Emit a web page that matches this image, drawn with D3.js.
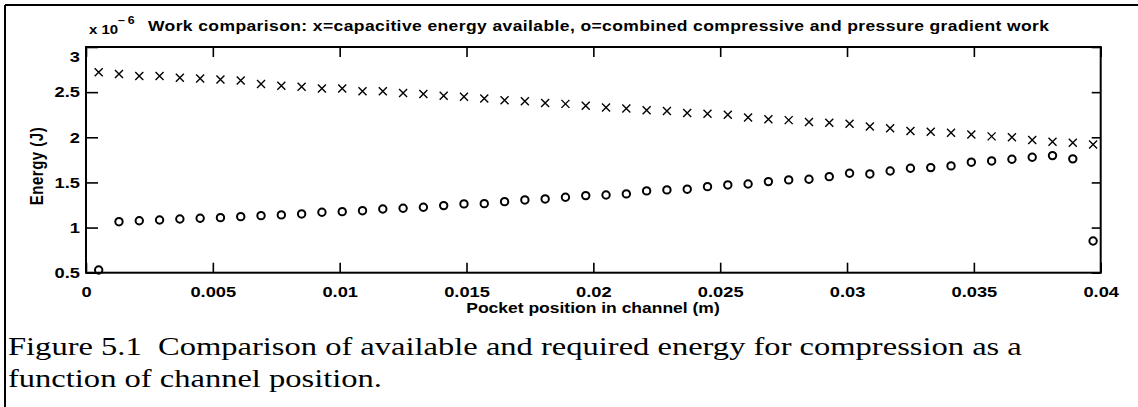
<!DOCTYPE html>
<html>
<head>
<meta charset="utf-8">
<script src="https://cdn.jsdelivr.net/npm/d3@7"></script>
<style>
  html, body { margin: 0; padding: 0; background: #fff; }
  svg { display: block; }
  .lbl { font-family: "Liberation Sans", Arial, sans-serif; font-weight: bold; fill: #000; }
  .cap { font-family: "Liberation Serif", "Times New Roman", serif; fill: #000; }
</style>
</head>
<body>
<svg id="fig" width="1138" height="407"></svg>
<script>
// Pocket position in channel (m)
const positions = [
  0.0005, 0.0013, 0.0021, 0.0029, 0.0037, 0.0045, 0.0053, 0.0061, 0.0069, 0.0077,
  0.0085, 0.0093, 0.0101, 0.0109, 0.0117, 0.0125, 0.0133, 0.0141, 0.0149, 0.0157,
  0.0165, 0.0173, 0.0181, 0.0189, 0.0197, 0.0205, 0.0213, 0.0221, 0.0229, 0.0237,
  0.0245, 0.0253, 0.0261, 0.0269, 0.0277, 0.0285, 0.0293, 0.0301, 0.0309, 0.0317,
  0.0325, 0.0333, 0.0341, 0.0349, 0.0357, 0.0365, 0.0373, 0.0381, 0.0389, 0.0397
];
// x: capacitive energy available (x 1e-6 J)
const capacitive = [
  2.72, 2.70, 2.68, 2.68, 2.66, 2.65, 2.64, 2.63, 2.59, 2.57,
  2.56, 2.54, 2.54, 2.51, 2.51, 2.49, 2.48, 2.46, 2.45, 2.43,
  2.41, 2.40, 2.38, 2.37, 2.35, 2.33, 2.32, 2.30, 2.29, 2.27,
  2.26, 2.25, 2.22, 2.20, 2.19, 2.17, 2.16, 2.15, 2.12, 2.10,
  2.07, 2.06, 2.05, 2.03, 2.01, 2.00, 1.97, 1.95, 1.94, 1.92
];
// o: combined compressive and pressure gradient work (x 1e-6 J)
const compressive = [
  0.53, 1.065, 1.076, 1.084, 1.095, 1.103, 1.110, 1.121, 1.132, 1.140,
  1.151, 1.170, 1.176, 1.187, 1.206, 1.214, 1.225, 1.243, 1.262, 1.265,
  1.287, 1.306, 1.317, 1.336, 1.354, 1.361, 1.373, 1.406, 1.417, 1.425,
  1.453, 1.472, 1.483, 1.509, 1.528, 1.535, 1.564, 1.602, 1.594, 1.627,
  1.657, 1.664, 1.683, 1.724, 1.738, 1.757, 1.779, 1.797, 1.761, 0.851
];
const xTicks = [0, 0.005, 0.01, 0.015, 0.02, 0.025, 0.03, 0.035, 0.04];
const xTickLabels = ["0", "0.005", "0.01", "0.015", "0.02", "0.025", "0.03", "0.035", "0.04"];
const yTicks = [0.5, 1, 1.5, 2, 2.5, 3];
const yTickLabels = ["0.5", "1", "1.5", "2", "2.5", "3"];

const titleText = "Work comparison: x=capacitive energy available, o=combined compressive and pressure gradient work";
const captionLines = [
  "Figure 5.1\u00a0 Comparison of available and required energy for compression as a",
  "function of channel position."
];

// the figure's lettering is set wide: glyphs are stretched horizontally
const SX = 1.22;
const SCAP = 1.252;

const svg = d3.select("#fig");
const box = { left: 86, right: 1100.7, top: 47, bottom: 272.7 };

const x = d3.scaleLinear().domain([0, 0.04]).range([box.left, box.right]);
const y = d3.scaleLinear().domain([0.5, 3]).range([box.bottom, box.top]);

// draws a horizontally stretched text at page position (px, py)
function wideText(parent, px, py, s) {
  return parent.append("text")
    .attr("x", px / s).attr("y", py)
    .attr("transform", `scale(${s},1)`);
}

// page frame (top and left rules)
svg.append("line").attr("x1", 5).attr("x2", 1138).attr("y1", 5).attr("y2", 5)
  .attr("stroke", "#000").attr("stroke-width", 2);
svg.append("line").attr("x1", 5).attr("x2", 5).attr("y1", 5).attr("y2", 407)
  .attr("stroke", "#000").attr("stroke-width", 2);

// axes: ticks pointing inward on all four sides
const tickStyle = g => {
  g.select(".domain").remove();
  g.selectAll(".tick line").attr("stroke", "#000").attr("stroke-width", 1.6);
  g.selectAll(".tick text").attr("class", "lbl").attr("font-size", 15);
};

const fmtX = d => xTickLabels[xTicks.indexOf(d)];
const fmtY = d => yTickLabels[yTicks.indexOf(d)];

svg.append("g").attr("transform", `translate(0,${box.bottom})`)
  .call(d3.axisBottom(x).tickValues(xTicks).tickFormat(fmtX).tickSizeInner(-10).tickSizeOuter(0).tickPadding(14))
  .call(tickStyle)
  .call(g => g.selectAll(".tick text").attr("transform", `scale(${SX},1)`));

svg.append("g").attr("transform", `translate(0,${box.top})`)
  .call(d3.axisTop(x).tickValues(xTicks).tickFormat("").tickSizeInner(-10).tickSizeOuter(0))
  .call(tickStyle);

svg.append("g").attr("transform", `translate(${box.left},0)`)
  .call(d3.axisLeft(y).tickValues(yTicks).tickFormat(fmtY).tickSizeInner(-12).tickSizeOuter(0).tickPadding(6))
  .call(tickStyle)
  .call(g => g.selectAll(".tick text")
    .attr("x", function () { return +d3.select(this).attr("x") / SX; })
    .attr("transform", `scale(${SX},1)`))
  .call(g => g.selectAll(".tick text").filter(d => d === 3).attr("dy", "0.95em"));

svg.append("g").attr("transform", `translate(${box.right},0)`)
  .call(d3.axisRight(y).tickValues(yTicks).tickFormat("").tickSizeInner(-9).tickSizeOuter(0))
  .call(tickStyle);

// axis frame
svg.append("rect")
  .attr("x", box.left).attr("y", box.top)
  .attr("width", box.right - box.left).attr("height", box.bottom - box.top)
  .attr("fill", "none").attr("stroke", "#000").attr("stroke-width", 2);

// x markers
const h = 4;
svg.append("g").selectAll("path").data(positions.map((p, i) => [p, capacitive[i]]))
  .join("path")
  .attr("d", d => {
    const cx = x(d[0]), cy = y(d[1]);
    return `M${cx - h},${cy - h}L${cx + h},${cy + h}M${cx - h},${cy + h}L${cx + h},${cy - h}`;
  })
  .attr("stroke", "#000").attr("stroke-width", 1.4).attr("fill", "none");

// o markers
svg.append("g").selectAll("circle").data(positions.map((p, i) => [p, compressive[i]]))
  .join("circle")
  .attr("cx", d => x(d[0])).attr("cy", d => y(d[1])).attr("r", 3.7)
  .attr("fill", "none").attr("stroke", "#000").attr("stroke-width", 2);

// exponent and title
wideText(svg, 89, 34, 1.25).attr("class", "lbl").attr("font-size", 12).text("x 10");
wideText(svg, 118, 24, 1.25).attr("class", "lbl").attr("font-size", 10)
  .style("letter-spacing", "2px").text("\u22126");

wideText(svg, 148, 31, 1.25).attr("class", "lbl").attr("font-size", 14)
  .attr("textLength", 901 / 1.25).attr("lengthAdjust", "spacing")
  .text(titleText);

// axis titles
wideText(svg, 593, 313, 1.25).attr("class", "lbl").attr("text-anchor", "middle")
  .attr("font-size", 14).text("Pocket position in channel (m)");

svg.append("text").attr("class", "lbl")
  .attr("transform", "translate(43,166) rotate(-90) scale(1,1.25)")
  .attr("text-anchor", "middle").attr("font-size", 15).style("letter-spacing", "0.5px")
  .text("Energy (J)");

// figure caption
svg.append("g").selectAll("text").data(captionLines).join("text")
  .attr("class", "cap")
  .attr("x", 8 / SCAP).attr("y", (d, i) => 355 + i * 32)
  .attr("transform", `scale(${SCAP},1)`)
  .attr("font-size", 26)
  .text(d => d);
</script>
</body>
</html>
